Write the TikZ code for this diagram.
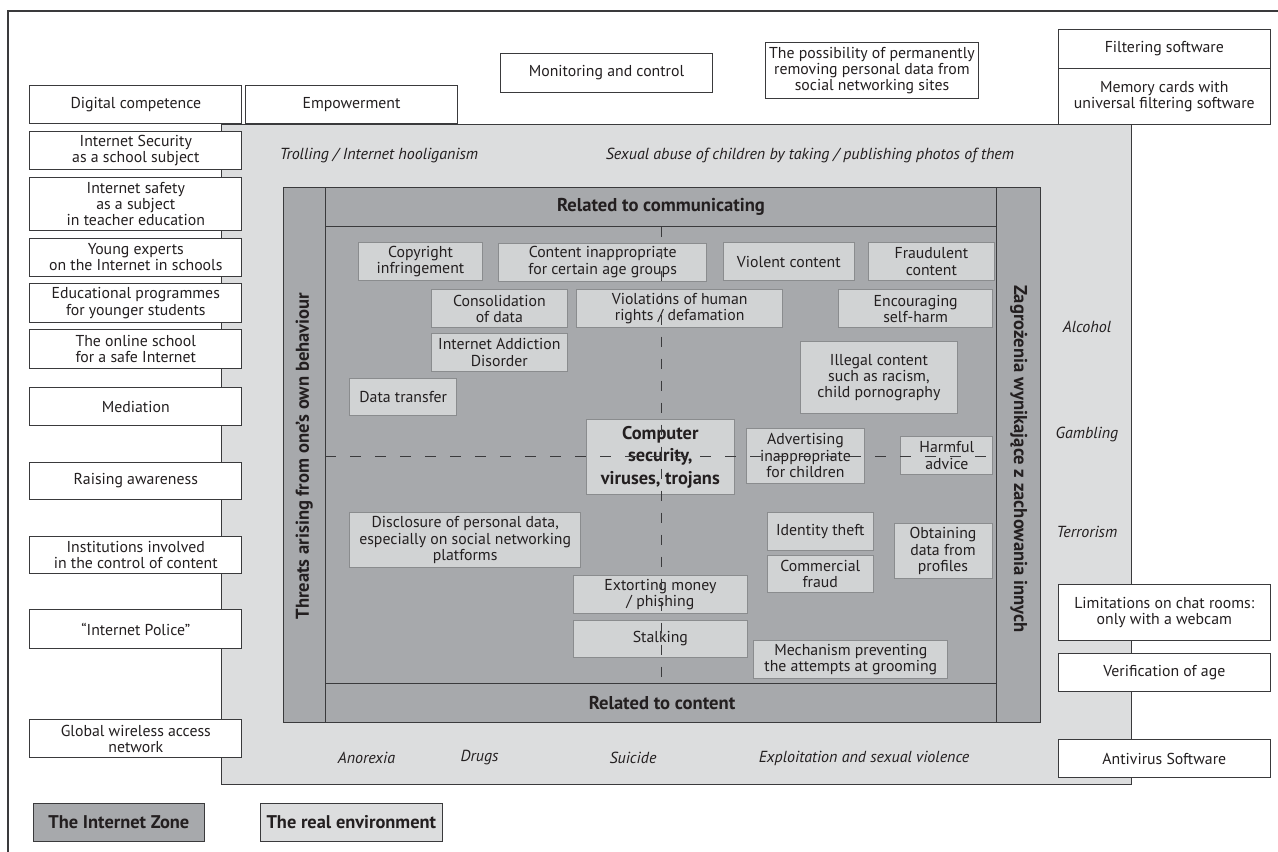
\documentclass[tikz,border=0pt]{standalone}
\usepackage{fontspec}
\setmainfont{PT Sans}
\definecolor{ink}{HTML}{231F20}
\definecolor{realenv}{HTML}{DCDDDE}
\definecolor{netzone}{HTML}{A7A9AC}
\definecolor{threatfill}{HTML}{D1D3D4}
\definecolor{threatline}{HTML}{8A8C8E}
\definecolor{frameline}{HTML}{3A3A3C}
\begin{document}
\begin{tikzpicture}[x=1pt, y=-1pt,
            every node/.style={text=ink, align=center},
            dims/.style 2 args={minimum width=#1pt, minimum height=#2pt},
            tool/.style={draw=frameline, fill=white, line width=1pt, anchor=north west, inner sep=1pt, font=\fontsize{15.8}{16.3}\selectfont},
            threat/.style={draw=threatline, fill=threatfill, line width=1pt, anchor=north west, inner sep=1pt, font=\fontsize{15.8}{16.3}\selectfont},
            risk/.style={font=\itshape\fontsize{16}{18}\selectfont},
            heading/.style={font=\bfseries\fontsize{18.6}{21}\selectfont},
            legend/.style={draw=frameline, line width=1pt, anchor=north west, font=\bfseries\fontsize{18.4}{21}\selectfont}
        ]
        \useasboundingbox (0,0) rectangle (1278,852);
        \draw[frameline, line width=1.2pt] (8,852) -- (8,11) -- (1278,11);
        \draw[frameline, fill=realenv, line width=1pt] (221,124.3) rectangle (1131.5,784.3);

        \node[tool, dims={211.8}{38.3}] (digital) at (29.4,85) {Digital competence};
        \node[tool, dims={211.8}{38}] (schoolsubject) at (29.4,131) {Internet Security\\as a school subject};
        \node[tool, dims={211.8}{53.3}] (teachers) at (29.4,176.7) {Internet safety\\as a subject\\in teacher education};
        \node[tool, dims={211.8}{38.3}] (experts) at (29.4,237.7) {Young experts\\on the Internet in schools};
        \node[tool, dims={211.8}{38.4}] (programmes) at (29.4,283.3) {Educational programmes\\for younger students};
        \node[tool, dims={211.8}{38.4}] (onlineschool) at (29.4,329.3) {The online school\\for a safe Internet};
        \node[tool, dims={211.8}{38}] (mediation) at (29.4,387.3) {Mediation};
        \node[tool, dims={211.8}{37.6}] (awareness) at (29.4,461.7) {Raising awareness};
        \node[tool, dims={211.8}{37.6}] (institutions) at (29.4,535.7) {Institutions involved\\in the control of content};
        \node[tool, dims={211.8}{38.4}] (police) at (29.4,609.3) {“Internet Police”};
        \node[tool, dims={211.8}{38}] (wireless) at (29.4,719.3) {Global wireless access\\network};

        \node[tool, dims={212}{38.3}] (empower) at (245,85) {Empowerment};
        \node[tool, dims={212}{39}] (monitoring) at (500,53) {Monitoring and control};
        \node[tool, dims={212.4}{56.6}] (erasure) at (765.3,41.7) {The possibility of permanently\\removing personal data from\\social networking sites};

        \node[tool, dims={212}{38.4}] (filtering) at (1057.8,29.3) {Filtering software};
        \node[tool, dims={212}{56.6}] (memorycards) at (1057.8,67.7) {Memory cards with\\universal filtering software};
        \node[tool, dims={212}{56.3}] (chatrooms) at (1057.8,584) {Limitations on chat rooms:\\only with a webcam};
        \node[tool, dims={212}{37.7}] (agecheck) at (1057.8,653.3) {Verification of age};
        \node[tool, dims={212}{37.7}] (antivirus) at (1057.8,739.3) {Antivirus Software};

        \draw[frameline, fill=netzone, line width=1pt] (283.3,187.3) rectangle (1040.7,722.7);
        \draw[frameline, line width=1pt] (325.3,187.3) -- (325.3,722.7) (996.8,187.3) -- (996.8,722.7)
            (325.3,226.7) -- (996.8,226.7) (325.3,683.3) -- (996.8,683.3);

        \node[threat, dims={124.8}{37.7}] (copyright) at (357.6,242.3) {Copyright\\infringement};
        \node[threat, dims={207.6}{38}] (agecontent) at (498.4,242.5) {Content inappropriate\\for certain age groups};
        \node[threat, dims={130.6}{37.7}] (violent) at (723,242.3) {Violent content};
        \node[threat, dims={125.3}{37.7}] (fraudulent) at (868.2,242.3) {Fraudulent\\content};
        \node[threat, dims={135.7}{38}] (consolidation) at (431,289.3) {Consolidation\\of data};
        \node[threat, dims={205.7}{38}] (humanrights) at (576.3,289.3) {Violations of human\\rights / defamation};
        \node[threat, dims={154.3}{38}] (selfharm) at (838,289.3) {Encouraging\\self-harm};
        \node[threat, dims={135.7}{38.3}] (addiction) at (431,332.7) {Internet Addiction\\Disorder};
        \node[threat, dims={157.8}{72.6}] (illegal) at (799.5,340.7) {Illegal content\\such as racism,\\child pornography};
        \node[threat, dims={106.6}{37.6}] (transfer) at (349.4,377.7) {Data transfer};
        \node[threat, dims={148.3}{75.6}, font=\bfseries\fontsize{18.4}{22.5}\selectfont] (computer) at (585.7,418.7) {Computer\\security,\\viruses, trojans};
        \node[threat, dims={118.5}{55}] (advertising) at (745.7,427.7) {Advertising\\inappropriate\\for children};
        \node[threat, dims={91.9}{38}] (advice) at (900.4,436) {Harmful\\advice};
        \node[threat, dims={230.6}{55.3}] (disclosure) at (349.4,512) {Disclosure of personal data,\\especially on social networking\\platforms};
        \node[threat, dims={106.6}{38}] (identity) at (766.5,512) {Identity theft};
        \node[threat, dims={106.6}{37.6}] (commercial) at (766.5,554.7) {Commercial\\fraud};
        \node[threat, dims={98}{55.6}] (profiles) at (893.5,522.7) {Obtaining\\data from\\profiles};
        \node[threat, dims={174.8}{38.3}] (extortion) at (572.5,575) {Extorting money\\/ phishing};
        \node[threat, dims={174.8}{37.6}] (stalking) at (572.5,619.7) {Stalking};
        \node[threat, dims={194}{38}] (grooming) at (753.3,640.3) {Mechanism preventing\\the attempts at grooming};

        \draw[frameline, line width=0.8pt, dash pattern=on 10pt off 12pt] (661.3,226.7) -- (661.3,683.3);
        \draw[frameline, line width=0.8pt, dash pattern=on 11pt off 14pt] (325.3,456.7) -- (996.8,456.7);

        \node[heading] (communicating) at (661,207) {Related to communicating};
        \node[heading] (content) at (662,703) {Related to content};
        \node[heading, rotate=90] (ownbehaviour) at (304.3,456) {Threats arising from one’s own behaviour};
        \node[heading, rotate=-90] (others) at (1018.8,459) {Zagrożenia wynikające z zachowania innych};

        \node[risk] (trolling) at (379,155) {Trolling / Internet hooliganism};
        \node[risk] (photos) at (810,155) {Sexual abuse of children by taking / publishing photos of them};
        \node[risk] (alcohol) at (1087,327) {Alcohol};
        \node[risk] (gambling) at (1087,434) {Gambling};
        \node[risk] (terrorism) at (1087,532) {Terrorism};
        \node[risk] (anorexia) at (366.5,758) {Anorexia};
        \node[risk] (drugs) at (479.6,758) {Drugs};
        \node[risk] (suicide) at (633,758) {Suicide};
        \node[risk] (exploitation) at (864,758) {Exploitation and sexual violence};

        \node[legend, fill=netzone, dims={171.3}{38}] (zonekey) at (32.7,803) {The Internet Zone};
        \node[legend, fill=realenv, dims={182.4}{38}] (realkey) at (259.6,803) {The real environment};
\end{tikzpicture}
\end{document}
